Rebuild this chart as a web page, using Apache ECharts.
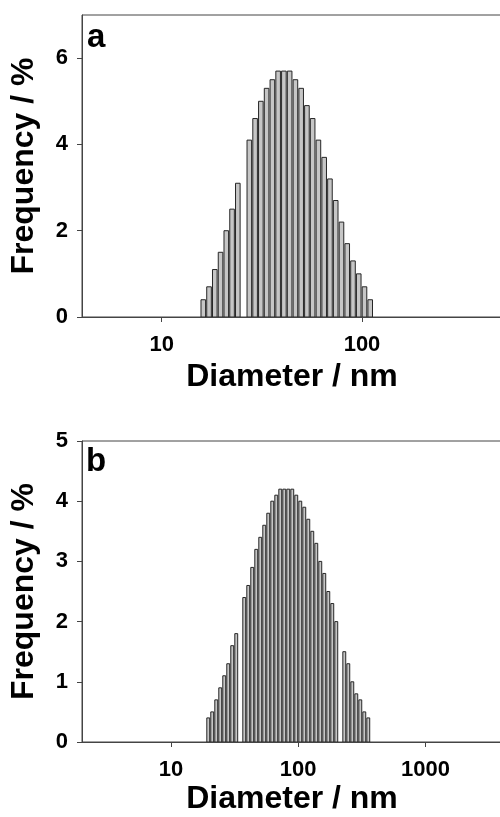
<!DOCTYPE html>
<html>
<head>
<meta charset="utf-8">
<script src="https://cdn.jsdelivr.net/npm/echarts@6/dist/echarts.min.js"></script>
<style>html,body{margin:0;padding:0;background:#fff;}#c{width:500px;height:817px;}</style>
</head>
<body>
<div id="c"></div>
<script>
// Panel a: bin centre diameters (nm) and frequencies (%)
const diamA = [16.13, 17.23, 18.41, 19.67, 21.01, 22.45, 23.99,
  27.38, 29.26, 31.26, 33.40, 35.69, 38.13, 40.74, 43.53, 46.51, 49.69, 53.09, 56.70,
  60.59, 64.74, 69.18, 73.91, 78.98, 84.37, 90.16, 96.32, 102.9, 109.9];
const freqA = [0.4, 0.7, 1.1, 1.5, 2.0, 2.5, 3.1,
  4.1, 4.6, 5.0, 5.3, 5.5, 5.7, 5.7, 5.7, 5.5, 5.3, 4.9, 4.6,
  4.1, 3.7, 3.2, 2.7, 2.2, 1.7, 1.3, 1.0, 0.7, 0.4];
// Panel b
const diamB = [19.65, 21.11, 22.71, 24.41, 26.24, 28.21, 30.33, 32.61,
  37.69, 40.52, 43.56, 46.84, 50.35, 54.14, 58.20, 62.58, 67.28, 72.33, 77.77, 83.58,
  89.87, 96.61, 103.9, 111.7, 120.1, 129.1, 138.8, 149.2, 160.4, 172.5, 185.4, 199.3,
  230.4, 247.7, 266.3, 286.3, 307.8, 330.9, 355.7];
const freqB = [0.4, 0.5, 0.7, 0.9, 1.1, 1.3, 1.6, 1.8,
  2.4, 2.6, 2.9, 3.2, 3.4, 3.6, 3.8, 4.0, 4.1, 4.2, 4.2, 4.2,
  4.2, 4.1, 4.0, 3.9, 3.7, 3.5, 3.3, 3.0, 2.8, 2.5, 2.3, 2.0,
  1.5, 1.3, 1.0, 0.8, 0.7, 0.5, 0.4];
const xTicksA = [10, 100];
const xTicksB = [10, 100, 1000];
const yTicksA = [0, 2, 4, 6];
const yTicksB = [0, 1, 2, 3, 4, 5];

const FONT = '"Liberation Sans", Arial, sans-serif';
const AX = '#444';

function barRender(w) {
  return function (params, api) {
    const x = api.value(0), y = api.value(1);
    const p = api.coord([x, y]);
    const p0 = api.coord([x, 0]);
    return {
      type: 'rect',
      shape: { x: p[0] - w / 2, y: p[1], width: w, height: p0[1] - p[1] },
      style: { fill: '#c6c6c6', stroke: '#262626', lineWidth: 1 }
    };
  };
}

function xAxisCfg(gi, min, max, ticks, gap) {
  return {
    type: 'log', logBase: 10, gridIndex: gi, min: min, max: max,
    axisLine: { show: true, lineStyle: { color: AX, width: 1 } },
    axisTick: { show: true, length: 5, lineStyle: { color: AX, width: 1 }, customValues: ticks },
    axisLabel: { show: true, margin: 17, customValues: ticks, color: '#000',
      fontFamily: FONT, fontWeight: 'bold', fontSize: 22,
      formatter: function (v) { return String(Math.round(v)); } },
    minorTick: { show: false }, splitLine: { show: false }, minorSplitLine: { show: false },
    name: 'Diameter / nm', nameLocation: 'middle', nameGap: gap, nameMoveOverlap: false,
    nameTextStyle: { color: '#000', fontFamily: FONT, fontWeight: 'bold', fontSize: 32 }
  };
}
function yAxisCfg(gi, max, ticks) {
  return {
    type: 'value', gridIndex: gi, min: 0, max: max,
    axisLine: { show: true, lineStyle: { color: AX, width: 1 } },
    axisTick: { show: true, length: 5, lineStyle: { color: AX, width: 1 }, customValues: ticks },
    axisLabel: { show: true, margin: 14, customValues: ticks, color: '#000',
      fontFamily: FONT, fontWeight: 'bold', fontSize: 22 },
    splitLine: { show: false },
    name: 'Frequency / %', nameLocation: 'middle', nameGap: 42, nameMoveOverlap: false,
    nameTextStyle: { color: '#000', fontFamily: FONT, fontWeight: 'bold', fontSize: 32 }
  };
}

const chart = echarts.init(document.getElementById('c'), null, { renderer: 'canvas' });
chart.setOption({
  animation: false,
  backgroundColor: '#fff',
  grid: [
    { left: 82, top: 15, width: 420, height: 302, show: true, borderColor: AX, borderWidth: 1,
      backgroundColor: 'transparent', containLabel: false, outerBoundsMode: 'none' },
    { left: 82, top: 441, width: 420, height: 301, show: true, borderColor: AX, borderWidth: 1,
      backgroundColor: 'transparent', containLabel: false, outerBoundsMode: 'none' }
  ],
  xAxis: [xAxisCfg(0, 4, 500, xTicksA, 44), xAxisCfg(1, 2, 4000, xTicksB, 41)],
  yAxis: [yAxisCfg(0, 7, yTicksA), yAxisCfg(1, 5, yTicksB)],
  graphic: [
    { type: 'text', left: 87, top: 21, style: { text: 'a', fill: '#000', font: 'bold 33px ' + FONT } },
    { type: 'text', left: 86, top: 445, style: { text: 'b', fill: '#000', font: 'bold 33px ' + FONT } }
  ],
  series: [
    { type: 'custom', xAxisIndex: 0, yAxisIndex: 0, clip: true, renderItem: barRender(4.6),
      data: diamA.map((d, i) => [d, freqA[i]]) },
    { type: 'custom', xAxisIndex: 1, yAxisIndex: 1, clip: true, renderItem: barRender(2.9),
      data: diamB.map((d, i) => [d, freqB[i]]) }
  ]
});
</script>
</body>
</html>
